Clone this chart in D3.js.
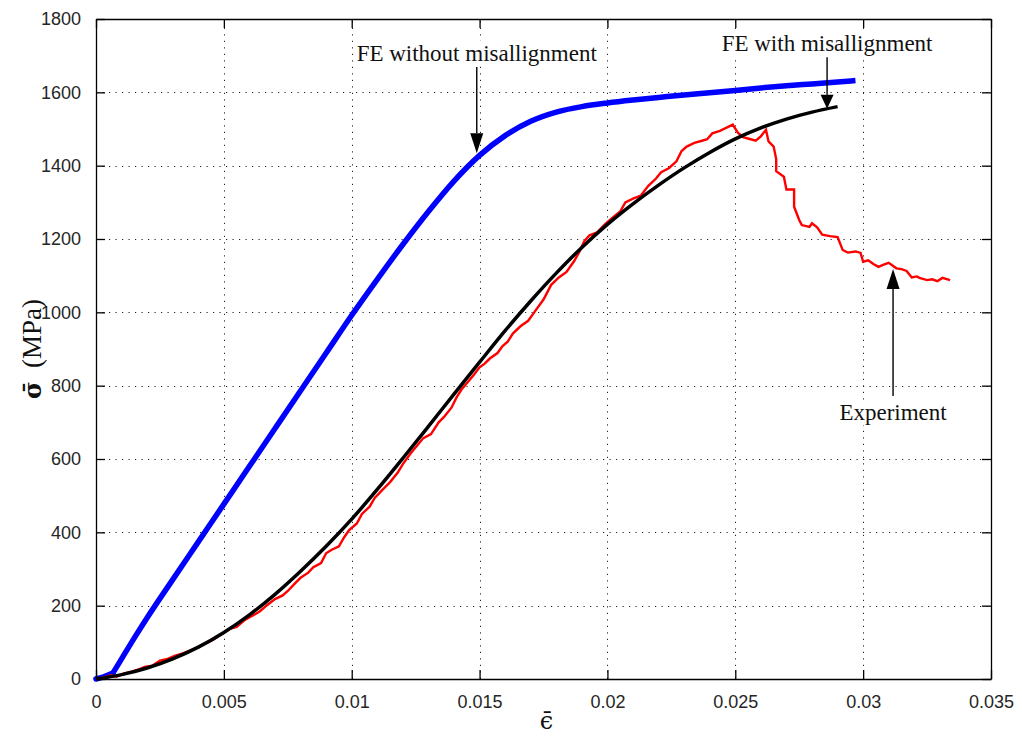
<!DOCTYPE html>
<html>
<head>
<meta charset="utf-8">
<script src="https://cdn.jsdelivr.net/npm/d3@7"></script>
<style>
  html, body { margin: 0; padding: 0; background: #fff; }
  svg { display: block; }
</style>
</head>
<body>
<svg id="chart" width="1022" height="736"></svg>
<script>
// Axis ticks
const xTicks = [0, 0.005, 0.01, 0.015, 0.02, 0.025, 0.03, 0.035];
const xTickLabels = ["0", "0.005", "0.01", "0.015", "0.02", "0.025", "0.03", "0.035"];
const yTicks = [0, 200, 400, 600, 800, 1000, 1200, 1400, 1600, 1800];
const yTickLabels = ["0", "200", "400", "600", "800", "1000", "1200", "1400", "1600", "1800"];

// FE without misalignment: [strain, stress MPa]
const feNoMisalign = [
  [0, 0], [0.0003, 6], [0.00066, 16], [0.001, 55], [0.0015, 112], [0.002, 167],
  [0.003, 271], [0.004, 374], [0.005, 477], [0.006, 580], [0.007, 683],
  [0.008, 786], [0.009, 889], [0.010, 992], [0.011, 1090], [0.012, 1185],
  [0.013, 1275], [0.014, 1358], [0.015, 1428], [0.016, 1482], [0.017, 1521],
  [0.018, 1546], [0.019, 1561], [0.020, 1571], [0.021, 1579], [0.022, 1586],
  [0.023, 1593], [0.024, 1599], [0.025, 1605], [0.026, 1612], [0.027, 1618],
  [0.028, 1623], [0.029, 1628], [0.0297, 1632]
];

// FE with misalignment
const feMisalign = [
  [0, 0], [0.001, 12], [0.002, 30], [0.003, 55], [0.004, 87], [0.005, 127],
  [0.006, 175], [0.007, 231], [0.008, 294], [0.009, 362], [0.010, 436],
  [0.011, 517], [0.012, 602], [0.013, 689], [0.014, 777], [0.015, 864],
  [0.016, 950], [0.017, 1031], [0.018, 1107], [0.019, 1177], [0.020, 1240],
  [0.021, 1296], [0.022, 1347], [0.023, 1394], [0.024, 1436], [0.025, 1473],
  [0.026, 1503], [0.027, 1527], [0.028, 1546], [0.029, 1561]
];

// Experiment
const experiment = [
  [0, 0], [0.0003, 4], [0.0006, 10], [0.0008, 6], [0.0011, 15], [0.0014, 20],
  [0.0017, 27], [0.0019, 33], [0.0022, 36], [0.0025, 50], [0.0028, 55],
  [0.0031, 64], [0.0034, 70], [0.0037, 78], [0.004, 86], [0.0043, 98],
  [0.0046, 108], [0.0049, 122], [0.0052, 136], [0.0055, 142], [0.0058, 160],
  [0.0061, 172], [0.0064, 184], [0.0067, 202], [0.007, 218], [0.0073, 228],
  [0.0075, 240], [0.0078, 262], [0.008, 276], [0.0083, 290], [0.0085, 305],
  [0.0088, 316], [0.009, 343], [0.0092, 352], [0.0095, 362], [0.0097, 386],
  [0.0099, 406], [0.0102, 424], [0.0104, 450], [0.0107, 470], [0.0109, 494],
  [0.0112, 516], [0.0115, 537], [0.0118, 563], [0.012, 586], [0.0123, 615],
  [0.0126, 640], [0.0128, 657], [0.0131, 668], [0.0134, 700], [0.0136, 714],
  [0.0139, 740], [0.0141, 768], [0.0143, 790], [0.0146, 815], [0.0148, 832],
  [0.015, 850], [0.0152, 860], [0.0154, 874], [0.0157, 889], [0.0159, 908],
  [0.0161, 920], [0.0163, 942], [0.0166, 962], [0.0169, 977], [0.0172, 1006],
  [0.0175, 1035], [0.0178, 1075], [0.0181, 1095], [0.0184, 1110], [0.0187, 1140],
  [0.0189, 1165], [0.0191, 1195], [0.0193, 1210], [0.0196, 1218], [0.0199, 1240],
  [0.0202, 1258], [0.0205, 1275], [0.0207, 1300], [0.021, 1310], [0.0213, 1318],
  [0.0216, 1345], [0.0219, 1365], [0.0221, 1382], [0.0224, 1393], [0.0227, 1412],
  [0.0229, 1440], [0.0231, 1452], [0.0234, 1462], [0.0237, 1468], [0.0239, 1472],
  [0.0241, 1488], [0.0244, 1495], [0.0247, 1505], [0.0249, 1512], [0.0251, 1490],
  [0.0253, 1478], [0.0256, 1472], [0.0258, 1468], [0.026, 1480], [0.0262, 1498],
  [0.0263, 1466], [0.0265, 1452], [0.0266, 1418], [0.0266, 1385], [0.0269, 1370],
  [0.027, 1335], [0.0273, 1335], [0.0273, 1298], [0.0273, 1288], [0.0275, 1252],
  [0.0276, 1238], [0.0279, 1233], [0.028, 1243], [0.0282, 1232], [0.0284, 1212],
  [0.0287, 1208], [0.029, 1205], [0.0292, 1170], [0.0294, 1163], [0.0297, 1166],
  [0.0299, 1162], [0.03, 1138], [0.0302, 1142], [0.0304, 1132], [0.0306, 1124],
  [0.0308, 1130], [0.031, 1135], [0.0313, 1120], [0.0315, 1118], [0.0317, 1113],
  [0.0319, 1095], [0.0321, 1098], [0.0322, 1094], [0.0325, 1088], [0.0327, 1090],
  [0.0329, 1085], [0.0331, 1094], [0.0334, 1088]
];

// Annotation arrows: label, tail point and head point in data units
const annotationLabels = ["FE without misallignment", "FE with misallignment", "Experiment"];
const annotationTails = [[0.01489, 1669], [0.02859, 1696], [0.03117, 772]];
const annotationHeads = [[0.01489, 1434], [0.02859, 1555], [0.03117, 1118]];

const margin = { left: 96, top: 19, right: 31, bottom: 57 };
const W = 1022, H = 736;
const svg = d3.select("#chart");

const x = d3.scaleLinear().domain([0, 0.035]).range([margin.left, W - margin.right]);
const y = d3.scaleLinear().domain([0, 1800]).range([H - margin.bottom, margin.top]);
const [x0, x1] = x.range();
const [y0, y1] = y.range();

// dotted grid
const grid = svg.append("g")
  .attr("stroke", "#222").attr("stroke-width", 1)
  .attr("stroke-dasharray", "1.2,5.3").attr("fill", "none");
xTicks.slice(1, -1).forEach(t => {
  grid.append("line").attr("x1", Math.round(x(t)) + 0.5).attr("x2", Math.round(x(t)) + 0.5)
    .attr("y1", y0).attr("y2", y1);
});
yTicks.slice(1, -1).forEach(t => {
  grid.append("line").attr("y1", Math.round(y(t)) + 0.5).attr("y2", Math.round(y(t)) + 0.5)
    .attr("x1", x0).attr("x2", x1);
});

// curves
const smooth = d3.line().curve(d3.curveMonotoneX).x(d => x(d[0])).y(d => y(d[1]));
const jagged = d3.line().x(d => x(d[0])).y(d => y(d[1]));
svg.append("path").datum(feNoMisalign.slice(0, 3)).attr("d", jagged)
  .attr("fill", "none").attr("stroke", "#0000ff").attr("stroke-width", 5.5)
  .attr("stroke-linejoin", "round").attr("stroke-linecap", "round");
svg.append("path").datum(feNoMisalign.slice(2)).attr("d", smooth)
  .attr("fill", "none").attr("stroke", "#0000ff").attr("stroke-width", 5.5)
  .attr("stroke-linejoin", "round");
svg.append("path").datum(experiment).attr("d", jagged)
  .attr("fill", "none").attr("stroke", "#ff0000").attr("stroke-width", 2.4)
  .attr("stroke-linejoin", "miter");
svg.append("path").datum(feMisalign).attr("d", smooth)
  .attr("fill", "none").attr("stroke", "#000").attr("stroke-width", 3.5)
  .attr("stroke-linejoin", "round");

// axes with inward ticks on all four sides
const tickLen = 9;
const fmtX = d => xTickLabels[xTicks.indexOf(d)];
const fmtY = d => yTickLabels[yTicks.indexOf(d)];
const axisStyle = g => {
  g.select(".domain").attr("stroke", "#000").attr("stroke-width", 1.3);
  g.selectAll(".tick line").attr("stroke", "#000").attr("stroke-width", 1.3);
  g.selectAll(".tick text").attr("fill", "#262626")
    .style("font-family", "'Liberation Sans', Arial, sans-serif").style("font-size", "18px");
};
svg.append("g").attr("transform", `translate(0,${y0})`)
  .call(d3.axisBottom(x).tickValues(xTicks).tickFormat(fmtX).tickSizeInner(-tickLen).tickSizeOuter(0).tickPadding(tickLen + 7))
  .call(axisStyle);
svg.append("g").attr("transform", `translate(0,${y1})`)
  .call(d3.axisTop(x).tickValues(xTicks).tickFormat("").tickSizeInner(-tickLen).tickSizeOuter(0))
  .call(axisStyle);
svg.append("g").attr("transform", `translate(${x0},0)`)
  .call(d3.axisLeft(y).tickValues(yTicks).tickFormat(fmtY).tickSizeInner(-tickLen).tickSizeOuter(0).tickPadding(tickLen + 6))
  .call(axisStyle);
svg.append("g").attr("transform", `translate(${x1},0)`)
  .call(d3.axisRight(y).tickValues(yTicks).tickFormat("").tickSizeInner(-tickLen).tickSizeOuter(0))
  .call(axisStyle);

// axis labels
svg.append("text")
  .attr("x", (x0 + x1) / 2 + 3).attr("y", 729)
  .attr("text-anchor", "middle")
  .style("font-family", "'DejaVu Serif', 'Liberation Serif', serif")
  .style("font-size", "24px").attr("fill", "#111")
  .text("\u03F5\u0304");

const yl = svg.append("text")
  .attr("transform", `translate(41,${(y0 + y1) / 2}) rotate(-90)`)
  .attr("text-anchor", "middle")
  .attr("fill", "#111");
yl.append("tspan")
  .style("font-family", "'DejaVu Serif', serif").style("font-weight", "bold").style("font-size", "24px")
  .text("\u03C3\u0304");
yl.append("tspan")
  .style("font-family", "'Liberation Serif', 'Times New Roman', serif").style("font-size", "27px")
  .text("\u00A0\u00A0(MPa)");

// annotations: arrow with filled head, label with white backing box
const annG = svg.append("g");
annotationLabels.forEach((label, i) => {
  const tx = x(annotationTails[i][0]), ty = y(annotationTails[i][1]);
  const hx = x(annotationHeads[i][0]), hy = y(annotationHeads[i][1]);
  const dir = hy > ty ? 1 : -1;
  const headLen = i === 1 ? 14 : 20, headHalf = 6.5;
  annG.append("line").attr("x1", tx).attr("y1", ty).attr("x2", hx).attr("y2", hy - dir * headLen)
    .attr("stroke", "#000").attr("stroke-width", 1.4);
  annG.append("path")
    .attr("d", `M${hx},${hy} L${hx - headHalf},${hy - dir * headLen} L${hx + headHalf},${hy - dir * headLen} Z`)
    .attr("fill", "#000");

  const t = annG.append("text")
    .attr("x", tx)
    .attr("y", dir > 0 ? ty - 6 : ty + 24)
    .attr("text-anchor", "middle")
    .style("font-family", "'Liberation Serif', 'Times New Roman', serif")
    .style("font-size", "23px").attr("fill", "#111")
    .text(label);
  const bb = t.node().getBBox();
  annG.insert("rect", () => t.node())
    .attr("x", bb.x - 2).attr("y", bb.y).attr("width", bb.width + 4).attr("height", bb.height)
    .attr("fill", "#fff");
});
</script>
</body>
</html>
